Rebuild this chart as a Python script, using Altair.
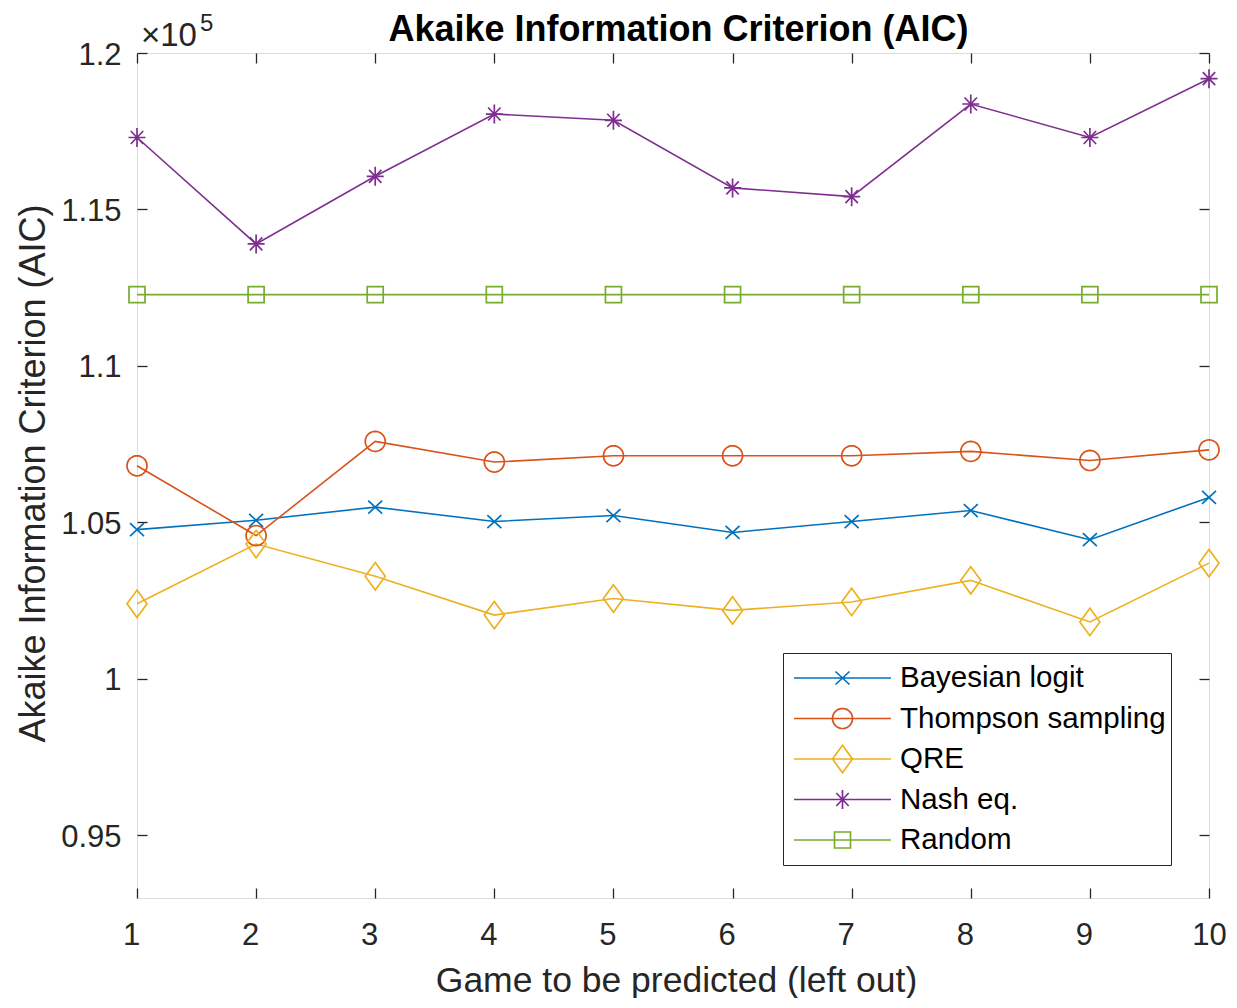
import math
import altair as alt
import pandas as pd

# ---------------- data ----------------
games = [1, 2, 3, 4, 5, 6, 7, 8, 9, 10]
series_names = ["Bayesian logit", "Thompson sampling", "QRE", "Nash eq.", "Random"]
bayesian = [104770, 105070, 105490, 105030, 105220, 104680, 105030, 105380, 104450, 105800]
thompson = [106810, 104580, 107590, 106930, 107130, 107130, 107130, 107270, 106980, 107320]
qre = [102400, 104310, 103280, 102040, 102570, 102190, 102460, 103150, 101820, 103700]
nash = [117300, 113900, 116060, 118050, 117850, 115690, 115410, 118370, 117300, 119180]
random_model = [112280, 112280, 112280, 112280, 112280, 112280, 112280, 112280, 112280, 112280]
y_ticks = [95000, 100000, 105000, 110000, 115000, 120000]

colors = ["#0072BD", "#D95319", "#EDB120", "#7E2F8E", "#77AC30"]

rows = []
for name, vals in zip(series_names, [bayesian, thompson, qre, nash, random_model]):
    for g, v in zip(games, vals):
        rows.append({"game": g, "aic": v, "series": name, "legend": name})
df = pd.DataFrame(rows)

# ---------------- marker shapes (unit coordinates) ----------------
def circle_pts(r, n=36):
    return [(r * math.cos(2 * math.pi * k / n), r * math.sin(2 * math.pi * k / n)) for k in range(n)]

marker_geom = [
    ([[(-0.7, -0.65), (0.7, 0.65)], [(-0.7, 0.65), (0.7, -0.65)]], False),                  # x
    ([circle_pts(1.0)], True),                                                               # o
    ([[(0, -1.37), (1.0, 0), (0, 1.37), (-1.0, 0)]], True),                                  # diamond
    ([[(-0.85, 0), (0.85, 0)], [(0, -0.95), (0, 0.95)],
      [(-0.62, -0.65), (0.62, 0.65)], [(-0.62, 0.65), (0.62, -0.65)]], False),               # asterisk
    ([[(-0.8, -0.8), (0.8, -0.8), (0.8, 0.8), (-0.8, 0.8)]], True),                          # square
]

def to_path(polys, closed, s=1.0):
    parts = []
    for poly in polys:
        p = "M" + " L".join(f"{x * s:.4f},{y * s:.4f}" for x, y in poly)
        if closed:
            p += " Z"
        parts.append(p)
    return " ".join(parts)

plot_shapes = [to_path(p, c) for p, c in marker_geom]
LEG_HALF = 53.5      # half width of legend symbol box in px
MARK_HALF = 10.0     # half width of plot marker box in px
leg_scale = MARK_HALF / LEG_HALF
line_half = 48.5 / LEG_HALF
legend_shapes = [f"M{-line_half:.4f},0 L{line_half:.4f},0 " + to_path(p, c, leg_scale) for p, c in marker_geom]

FONT = "Liberation Sans"
AX = "#262626"

x_scale = alt.Scale(domain=[1, 10], nice=False, zero=False)
y_scale = alt.Scale(domain=[93000, 120000], nice=False, zero=False)

legend_def = alt.Legend(
    title=None, orient="none", legendX=646, legendY=600, direction="vertical",
    symbolSize=(2 * LEG_HALF) ** 2, symbolStrokeWidth=1.7, symbolOpacity=1, symbolFillColor="transparent",
    clipHeight=40, rowPadding=0.5, labelOffset=3, labelFontSize=29.5, labelFont=FONT,
    labelColor="black", labelLimit=500, padding=5, strokeColor=AX, fillColor="white", cornerRadius=0)

# ---------------- layers ----------------
lines = alt.Chart(df).mark_line(strokeWidth=1.6).encode(
    x=alt.X("game:Q", scale=x_scale, axis=alt.Axis(
        orient="bottom", values=games, format="d", offset=-10, tickSize=10, domain=False, grid=False,
        labelFontSize=31, labelFont=FONT, labelColor=AX, labelPadding=22,
        labelOffset={"condition": {"test": "datum.value < 10", "value": -6}, "value": 0},
        labelOverlap=False, labelFlush=False, labelBound=False,
        tickColor=AX, tickWidth=1.3,
        title="Game to be predicted (left out)", titleFont=FONT, titleFontSize=35.5, titleFontWeight="normal",
        titleColor=AX, titleX=539, titleY=103, titleBaseline="alphabetic", titleAlign="center")),
    y=alt.Y("aic:Q", scale=y_scale, axis=alt.Axis(
        orient="left", values=y_ticks, offset=-10, tickSize=10, domain=False, grid=False,
        labelExpr="'' + (datum.value / 100000)",
        labelFontSize=31, labelFont=FONT, labelColor=AX, labelPadding=16, labelOffset=2,
        labelOverlap=False, labelBound=False, labelFlush=False,
        tickColor=AX, tickWidth=1.3,
        title="Akaike Information Criterion (AIC)", titleFont=FONT, titleFontSize=36, titleFontWeight="normal",
        titleColor=AX, titleX=-103, titleY=420, titleAngle=270, titleBaseline="alphabetic", titleAlign="center")),
    color=alt.Color("series:N", scale=alt.Scale(domain=series_names, range=colors), legend=None),
    detail="series:N",
    order="game:Q",
)

points = alt.Chart(df).mark_point(filled=False, size=400, strokeWidth=1.7, opacity=1).encode(
    x=alt.X("game:Q", scale=x_scale, axis=None),
    y=alt.Y("aic:Q", scale=y_scale, axis=None),
    color=alt.Color("series:N", scale=alt.Scale(domain=series_names, range=colors), legend=None),
    shape=alt.Shape("series:N", scale=alt.Scale(domain=series_names, range=plot_shapes), legend=None),
)

legend_layer = alt.Chart(df).transform_filter(alt.datum.game < 0).mark_point(
    filled=False, size=400, strokeWidth=1.7).encode(
    x=alt.X("game:Q", scale=x_scale, axis=None),
    y=alt.Y("aic:Q", scale=y_scale, axis=None),
    color=alt.Color("legend:N", scale=alt.Scale(domain=series_names, range=colors), legend=legend_def),
    shape=alt.Shape("legend:N", scale=alt.Scale(domain=series_names, range=legend_shapes), legend=legend_def),
)

mirror = alt.Chart(df).mark_point(opacity=0).encode(
    x=alt.X("game:Q", scale=x_scale, axis=alt.Axis(
        orient="top", values=games, offset=-10, tickSize=10, domain=False, grid=False, labels=False,
        tickColor=AX, tickWidth=1.3,
        title="Akaike Information Criterion (AIC)", titleFont=FONT, titleFontSize=36, titleFontWeight="bold",
        titleColor="black", titleX=541, titleY=-23, titleBaseline="alphabetic", titleAlign="center", titleAngle=0)),
    y=alt.Y("aic:Q", scale=y_scale, axis=alt.Axis(
        orient="right", values=y_ticks, offset=-10, tickSize=10, domain=False, grid=False, labels=False,
        tickColor=AX, tickWidth=1.3, title=None)),
)

exp_base = alt.Chart(pd.DataFrame({"t": ["×10"]})).mark_text(
    align="left", baseline="alphabetic", font=FONT, fontSize=33, color=AX).encode(
    x=alt.value(4), y=alt.value(-7), text="t:N")
exp_power = alt.Chart(pd.DataFrame({"t": ["5"]})).mark_text(
    align="left", baseline="alphabetic", font=FONT, fontSize=24, color=AX).encode(
    x=alt.value(63), y=alt.value(-22), text="t:N")

chart = alt.layer(lines, points, legend_layer, mirror, exp_base, exp_power).resolve_scale(
    color="independent", shape="independent"
).resolve_axis(
    x="independent", y="independent"
).properties(
    width=1072, height=845,
    autosize=alt.AutoSizeParams(type="none"),
    padding={"left": 129, "top": 45, "right": 20, "bottom": 100},
).configure_view(
    stroke=AX, strokeWidth=1.3, fill="white"
).configure(background="white")

chart.save("out.html", embed_options={"renderer": "svg", "actions": False})
